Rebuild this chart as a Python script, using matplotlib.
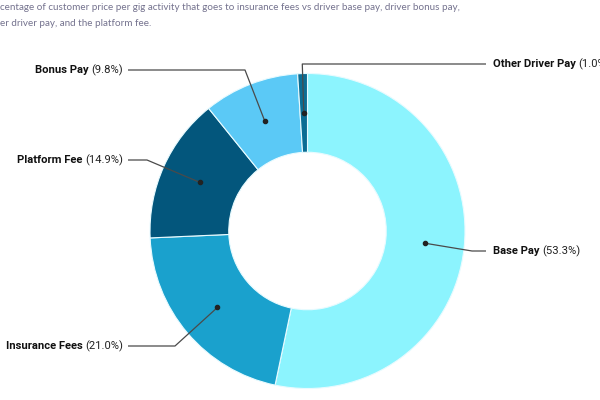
import numpy as np
import matplotlib.pyplot as plt

# slices, clockwise from 12 o'clock
categories = ['Base Pay', 'Insurance Fees', 'Platform Fee', 'Bonus Pay', 'Other Driver Pay']
shares = [53.3, 21.0, 14.9, 9.8, 1.0]
colors = ['#8cf4fe', '#1aa1cd', '#03567c', '#5bc9f6', '#0b6d94']

subtitle = ['centage of customer price per gig activity that goes to insurance fees vs driver base pay, driver bonus pay,',
            'er driver pay, and the platform fee.']

# label layout, image pixels (y down)
label_side = ['right', 'left', 'left', 'left', 'right']
label_y = [251, 346, 160, 70, 64]
elbow_x = [472, 175, 147, 245, None]

W, H = 600, 400
fig = plt.figure(figsize=(6, 4), dpi=100)
ax = fig.add_axes([0, 0, 1, 1])

cx, cy, R = 307.5, H - 231, 157.5
wedges, _ = ax.pie(shares, colors=colors, startangle=90, counterclock=False,
                   center=(cx, cy), radius=R, frame=True,
                   wedgeprops=dict(width=R * 0.5, edgecolor='#e8fbff', linewidth=0.8))
ax.set_xlim(0, W)
ax.set_ylim(0, H)
ax.set_aspect('equal')
ax.axis('off')

renderer = fig.canvas.get_renderer()
lab_font = ['Roboto', 'DejaVu Sans']
fs = 8.1

for i, w in enumerate(wedges):
    mid = np.deg2rad((w.theta1 + w.theta2) / 2)
    dx = cx + 0.75 * R * np.cos(mid)
    dy = cy + 0.75 * R * np.sin(mid)
    ly = H - label_y[i]
    if label_side[i] == 'right':
        end_x = 486
        tx = 493
    else:
        end_x = 128
        tx = 123
    ex = elbow_x[i] if elbow_x[i] is not None else dx - 1.5
    ax.plot([dx, ex, end_x], [dy, ly, ly], color='#4a4a4a', lw=0.9, solid_capstyle='butt')
    ax.plot(dx, dy, 'o', color='#222222', ms=3)

    name = categories[i]
    pct = f'({shares[i]:.1f}%)'
    if label_side[i] == 'right':
        t1 = ax.text(tx, ly, name + ' ', ha='left', va='center', fontsize=fs,
                     fontweight='bold', family=lab_font, color='#111111')
        bb = t1.get_window_extent(renderer)
        ax.text(bb.x1, ly, pct, ha='left', va='center', fontsize=fs,
                family=lab_font, color='#222222')
    else:
        t2 = ax.text(tx, ly, pct, ha='right', va='center', fontsize=fs,
                     family=lab_font, color='#222222')
        bb = t2.get_window_extent(renderer)
        ax.text(bb.x0, ly, name + ' ', ha='right', va='center', fontsize=fs,
                fontweight='bold', family=lab_font, color='#111111')

fig.text(0.5 / W, 1 - 8 / H, subtitle[0], ha='left', va='center', fontsize=7.1,
         family=['Lato', 'DejaVu Sans'], color='#74728e')
fig.text(0.5 / W, 1 - 24 / H, subtitle[1], ha='left', va='center', fontsize=7.1,
         family=['Lato', 'DejaVu Sans'], color='#74728e')

fig.savefig('out.png', dpi=100)
